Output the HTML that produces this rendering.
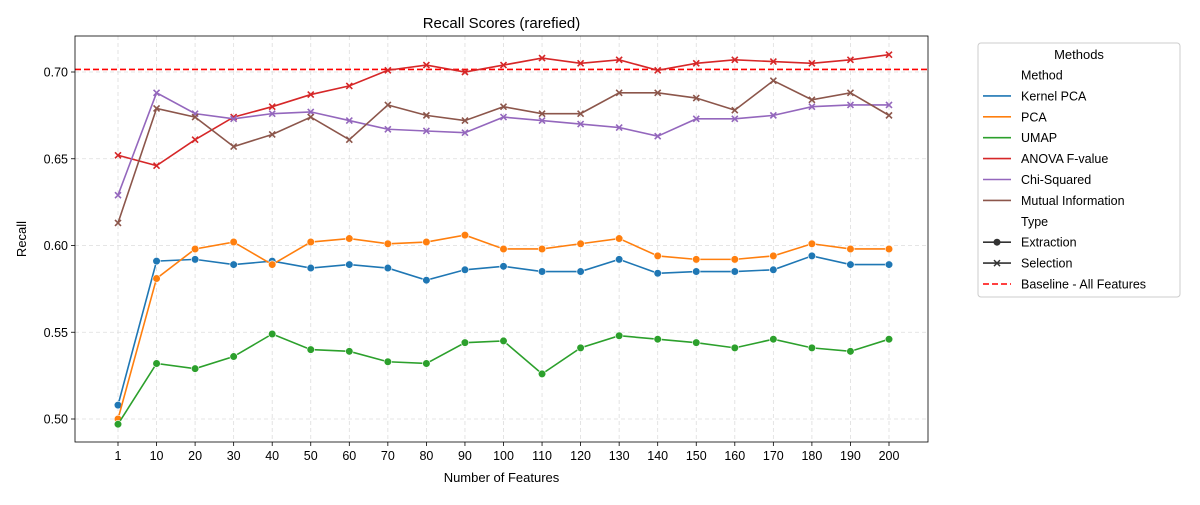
<!DOCTYPE html>
<html><head><meta charset="utf-8"><style>
body{margin:0;background:#fff;font-family:"Liberation Sans",sans-serif;}
svg text{font-family:"Liberation Sans",sans-serif;}
</style></head><body>
<svg id="c" width="1200" height="500" xmlns="http://www.w3.org/2000/svg"></svg>
<script>
const categories=["1","10","20","30","40","50","60","70","80","90","100","110","120","130","140","150","160","170","180","190","200"];
const yTicks=[0.50,0.55,0.60,0.65,0.70];
const kernelPca=[0.508,0.591,0.592,0.589,0.591,0.587,0.589,0.587,0.580,0.586,0.588,0.585,0.585,0.592,0.584,0.585,0.585,0.586,0.594,0.589,0.589];
const pca=[0.500,0.581,0.598,0.602,0.589,0.602,0.604,0.601,0.602,0.606,0.598,0.598,0.601,0.604,0.594,0.592,0.592,0.594,0.601,0.598,0.598];
const umap=[0.497,0.532,0.529,0.536,0.549,0.540,0.539,0.533,0.532,0.544,0.545,0.526,0.541,0.548,0.546,0.544,0.541,0.546,0.541,0.539,0.546];
const anova=[0.652,0.646,0.661,0.674,0.680,0.687,0.692,0.701,0.704,0.700,0.704,0.708,0.705,0.707,0.701,0.705,0.707,0.706,0.705,0.707,0.710];
const chi=[0.629,0.688,0.676,0.673,0.676,0.677,0.672,0.667,0.666,0.665,0.674,0.672,0.670,0.668,0.663,0.673,0.673,0.675,0.680,0.681,0.681];
const mi=[0.613,0.679,0.674,0.657,0.664,0.674,0.661,0.681,0.675,0.672,0.680,0.676,0.676,0.688,0.688,0.685,0.678,0.695,0.684,0.688,0.675];
const baseline=0.7015;
const series=[
 {name:"kernel-pca",label:"Kernel PCA",color:"#1f77b4",vals:kernelPca,m:"o"},
 {name:"pca",label:"PCA",color:"#ff7f0e",vals:pca,m:"o"},
 {name:"umap",label:"UMAP",color:"#2ca02c",vals:umap,m:"o"},
 {name:"anova",label:"ANOVA F-value",color:"#d62728",vals:anova,m:"x"},
 {name:"chi-squared",label:"Chi-Squared",color:"#9467bd",vals:chi,m:"x"},
 {name:"mutual-information",label:"Mutual Information",color:"#8c564b",vals:mi,m:"x"}];
const L=75,R=928,T=36,B=442;
const x=i=>118+i*(889-118)/(categories.length-1);
const y=v=>72+(0.70-v)*1735;
const svg=document.getElementById('c');
const NS="http://www.w3.org/2000/svg";
function mk(tag,attrs,parent){const e=document.createElementNS(NS,tag);for(const k in attrs)e.setAttribute(k,attrs[k]);(parent||svg).appendChild(e);return e;}
// grid
const grid=mk('g',{});


categories.forEach((c,i)=>{mk('line',{x1:x(i),x2:x(i),y1:T,y2:B,stroke:"#ddd","stroke-dasharray":"4,3","stroke-width":0.8},grid);});
yTicks.forEach(v=>{mk('line',{x1:L,x2:R,y1:y(v),y2:y(v),stroke:"#ddd","stroke-dasharray":"4,3","stroke-width":0.8},grid);});
// baseline
const bl=mk('line',{x1:L,x2:R,y1:y(baseline),y2:y(baseline),stroke:"#ff0000","stroke-width":1.6,"stroke-dasharray":"6,3"});


// series
series.forEach(s=>{
 const g=mk('g',{});
 
 
 mk('polyline',{points:s.vals.map((v,i)=>x(i)+','+y(v)).join(' '),fill:"none",stroke:s.color,"stroke-width":1.6},g);
 s.vals.forEach((v,i)=>{
  let p;
  if(s.m==="o"){p=mk('circle',{cx:x(i),cy:y(v),r:3.8,fill:s.color,stroke:"#fff","stroke-width":0.6},g);}
  else{const d=3;p=mk('path',{d:`M${x(i)-d},${y(v)-d}L${x(i)+d},${y(v)+d}M${x(i)-d},${y(v)+d}L${x(i)+d},${y(v)-d}`,stroke:s.color,"stroke-width":1.6},g);}
  
  
 });
});
// axes frame
const fr=mk('rect',{x:L,y:T,width:R-L,height:B-T,fill:"none",stroke:"#000","stroke-width":0.8});


categories.forEach((c,i)=>{
 mk('line',{x1:x(i),x2:x(i),y1:B,y2:B+4,stroke:"#000","stroke-width":0.8});
 const t=mk('text',{x:x(i),y:B+18,"text-anchor":"middle","font-size":12.5,fill:"#000"});t.textContent=c;
 
 
});
yTicks.forEach(v=>{
 mk('line',{x1:L-4,x2:L,y1:y(v),y2:y(v),stroke:"#000","stroke-width":0.8});
 const t=mk('text',{x:L-7,y:y(v)+4.5,"text-anchor":"end","font-size":12.5,fill:"#000"});t.textContent=v.toFixed(2);
 
 
});
let t=mk('text',{x:(L+R)/2,y:28,"text-anchor":"middle","font-size":15});t.textContent="Recall Scores (rarefied)";


t=mk('text',{x:(L+R)/2,y:482,"text-anchor":"middle","font-size":13});t.textContent="Number of Features";


t=mk('text',{x:26,y:239,"text-anchor":"middle","font-size":13,transform:"rotate(-90 26 239)"});t.textContent="Recall";


// legend
const lg=mk('g',{});


mk('rect',{x:978,y:43,width:202,height:254,rx:3,fill:"#fff",stroke:"#ccc"},lg);
t=mk('text',{x:1079,y:59,"text-anchor":"middle","font-size":13},lg);t.textContent="Methods";
const items=[{h:"Method"}].concat(series.slice(0,6).map(s=>({s}))).concat([{h:"Type"},{m:"o",label:"Extraction"},{m:"x",label:"Selection"},{b:1,label:"Baseline - All Features"}]);
items.forEach((it,k)=>{
 const yy=75+k*20.9;
 const e=mk('g',{},lg);
 
 
 if(it.h){t=mk('text',{x:1021,y:yy+4.5,"font-size":12.5},e);t.textContent=it.h;return;}
 let color=it.s?it.s.color:(it.b?"#ff0000":"#333");
 mk('line',{x1:983,x2:1011,y1:yy,y2:yy,stroke:color,"stroke-width":1.6,"stroke-dasharray":it.b?"6,3":"none"},e);
 if(it.m==="o")mk('circle',{cx:997,cy:yy,r:3.5,fill:"#333"},e);
 if(it.m==="x")mk('path',{d:`M994,${yy-3}L1000,${yy+3}M994,${yy+3}L1000,${yy-3}`,stroke:"#333","stroke-width":1.5},e);
 t=mk('text',{x:1021,y:yy+4.5,"font-size":12.5},e);t.textContent=it.s?it.s.label:it.label;
});
</script>
</body></html>
